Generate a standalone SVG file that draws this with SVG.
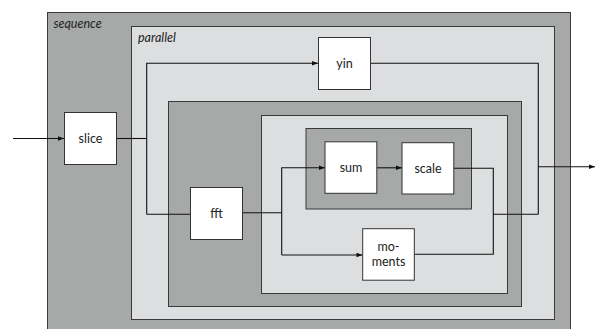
<svg xmlns="http://www.w3.org/2000/svg" width="595" height="329" viewBox="0 0 595 329">
  <style>
    .dark { fill: #a6a9a7; stroke: #3a3a3a; stroke-width: 1; }
    .light { fill: #dddee0; stroke: #3a3a3a; stroke-width: 1; }
    .op { fill: #ffffff; stroke: #333333; stroke-width: 1; }
    .lbl { font-family: Lato, "Open Sans", sans-serif; font-size: 12.5px; fill: #222222; text-anchor: middle; }
    .cap { font-family: Lato, "Open Sans", sans-serif; font-size: 12.5px; font-style: italic; fill: #222222; }
    .wire { fill: none; stroke: #111111; stroke-width: 1.1; }
  </style>
  <defs>
    <marker id="arrow" viewBox="0 0 8 8" refX="8" refY="4" markerWidth="7" markerHeight="6" markerUnits="userSpaceOnUse" orient="auto">
      <path d="M0,1 L8,4 L0,7 z" fill="#111111"/>
    </marker>
  </defs>

  <!-- nested combinator containers -->
  <g id="sequence">
    <rect class="dark" x="47.5" y="12.5" width="523" height="330"/>
    <text class="cap" x="53.5" y="28">sequence</text>
  </g>
  <g id="parallel">
    <rect class="light" x="131.5" y="26.5" width="423" height="293"/>
    <text class="cap" x="138" y="42">parallel</text>
  </g>
  <g id="fft-stage">
    <rect class="dark" x="168.5" y="101.5" width="353" height="205"/>
  </g>
  <g id="branch">
    <rect class="light" x="261.5" y="115.5" width="246" height="178"/>
  </g>
  <g id="sum-scale">
    <rect class="dark" x="306" y="128.5" width="165.5" height="80.5"/>
  </g>

  <!-- connectors -->
  <g id="connectors">
    <path class="wire" d="M13,138.5 H64" marker-end="url(#arrow)"/>
    <path class="wire" d="M116.5,138.5 H146.7"/>
    <path class="wire" d="M146.7,214.3 V63.3 H318" marker-end="url(#arrow)"/>
    <path class="wire" d="M146.7,214.3 H190.5"/>
    <path class="wire" d="M242.5,212.7 H281.7"/>
    <path class="wire" d="M281.7,255 V167.7 H325" marker-end="url(#arrow)"/>
    <path class="wire" d="M281.7,255 H362.5" marker-end="url(#arrow)"/>
    <path class="wire" d="M376.8,167.8 H402" marker-end="url(#arrow)"/>
    <path class="wire" d="M453.8,168.3 H493.3 V254.3 H414.3"/>
    <path class="wire" d="M493.3,214.3 H538.3"/>
    <path class="wire" d="M370.8,63.3 H538.3 V214.3"/>
    <path class="wire" d="M538.3,166.7 H595" marker-end="url(#arrow)"/>
  </g>

  <!-- operator nodes -->
  <g id="slice">
    <rect class="op" x="64.5" y="112.5" width="52" height="52"/>
    <text class="lbl" x="90.5" y="143">slice</text>
  </g>
  <g id="yin">
    <rect class="op" x="318.5" y="37.5" width="52" height="52"/>
    <text class="lbl" x="344.5" y="68">yin</text>
  </g>
  <g id="fft">
    <rect class="op" x="190.5" y="187.5" width="52" height="52"/>
    <text class="lbl" x="216.5" y="218">fft</text>
  </g>
  <g id="sum">
    <rect class="op" x="325" y="141.8" width="51.8" height="51.5"/>
    <text class="lbl" x="351" y="172">sum</text>
  </g>
  <g id="scale">
    <rect class="op" x="402" y="142.7" width="51.8" height="51.3"/>
    <text class="lbl" x="428" y="173">scale</text>
  </g>
  <g id="moments">
    <rect class="op" x="362.7" y="228.7" width="51.6" height="51.5"/>
    <text class="lbl" x="388.5" y="251">mo-</text>
    <text class="lbl" x="388.5" y="265.5">ments</text>
  </g>
</svg>
